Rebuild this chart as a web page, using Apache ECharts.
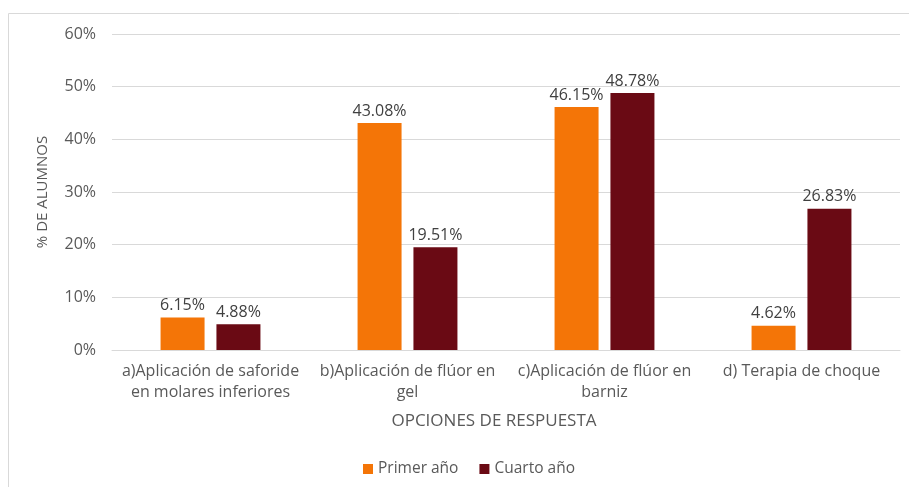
<!DOCTYPE html>
<html><head><meta charset="utf-8">
<script src="https://cdn.jsdelivr.net/npm/echarts@6/dist/echarts.min.js"></script>
<style>html,body{margin:0;padding:0;background:#fff}#c{width:909px;height:487px}</style>
</head><body><div id="c"></div>
<script>
const categories = ["a)Aplicación de saforide\nen molares inferiores", "b)Aplicación de flúor en\ngel", "c)Aplicación de flúor en\nbarniz", "d) Terapia de choque"];
const primerAnio = [6.15, 43.08, 46.15, 4.62];
const cuartoAnio = [4.88, 19.51, 48.78, 26.83];
const seriesNames = ["Primer año", "Cuarto año"];
const FONT = "'Open Sans', 'Noto Sans', sans-serif";
const chart = echarts.init(document.getElementById('c'), null, {renderer: 'canvas'});
const lbl = {show: true, position: 'top', distance: 4, color: '#404040', fontSize: 16, fontFamily: FONT, formatter: p => p.value.toFixed(2) + '%'};
chart.setOption({
  animation: false,
  textStyle: {fontFamily: FONT},
  graphic: [{type: 'rect', shape: {x: 8.5, y: 13.5, width: 1000, height: 600}, style: {fill: 'none', stroke: '#d9d9d9', lineWidth: 1}, z: -1}],
  grid: {left: 112, right: 9, top: 34, bottom: 137},
  legend: {bottom: 5, left: 358, itemWidth: 10, itemHeight: 10, itemGap: 21, icon: 'rect',
    textStyle: {color: '#595959', fontSize: 15.5, fontFamily: FONT}, data: seriesNames},
  xAxis: {type: 'category', data: categories,
    axisLine: {lineStyle: {color: '#d9d9d9'}}, axisTick: {show: false},
    axisLabel: {color: '#595959', fontSize: 16, fontFamily: FONT, lineHeight: 21, margin: 11, interval: 0},
    name: 'OPCIONES DE RESPUESTA', nameLocation: 'middle', nameGap: 63,
    nameTextStyle: {color: '#595959', fontSize: 17, fontFamily: FONT, padding: [0, 24, 0, 0]}},
  yAxis: {type: 'value', min: 0, max: 60, interval: 10,
    axisLabel: {color: '#595959', fontSize: 16, fontFamily: FONT, formatter: '{value}%', margin: 16},
    splitLine: {lineStyle: {color: '#d9d9d9'}},
    name: '% DE ALUMNOS', nameLocation: 'middle', nameGap: 62, nameRotate: 90,
    nameTextStyle: {color: '#595959', fontSize: 15, fontFamily: FONT}},
  series: [
    {name: seriesNames[0], type: 'bar', data: primerAnio, barWidth: 44, barGap: '27%', itemStyle: {color: '#F47507'}, label: lbl},
    {name: seriesNames[1], type: 'bar', data: cuartoAnio, barWidth: 44, barGap: '27%', itemStyle: {color: '#6A0A14'}, label: lbl}
  ]
});
</script></body></html>
